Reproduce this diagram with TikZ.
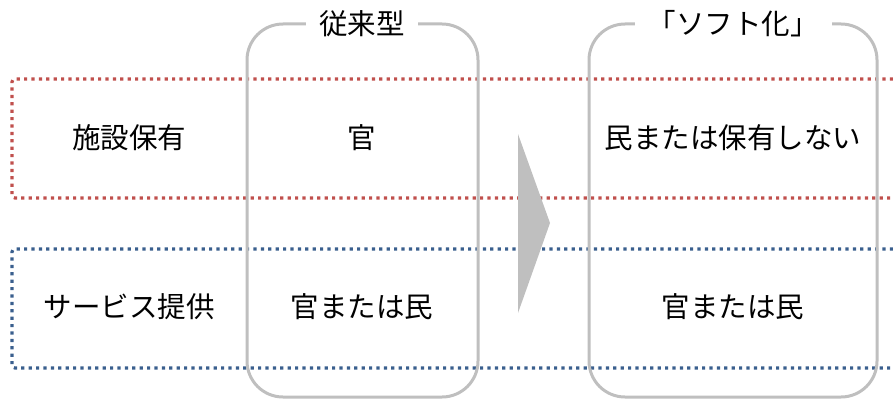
\documentclass[tikz,border=0pt]{standalone}
\usepackage{fontspec}
\setmainfont{Noto Sans CJK JP}
\definecolor{dred}{HTML}{C0504D}
\definecolor{dblue}{HTML}{3A5F8E}
\definecolor{lgray}{HTML}{BFBFBF}
\begin{document}
\begin{tikzpicture}[x=1pt,y=-1pt,
  rowbox/.style={line width=3.2pt,dash pattern=on 3.2pt off 4.2pt,rounded corners=3pt},
  colbox/.style={draw=lgray,line width=3pt,rounded corners=36pt},
  lbl/.style={font=\fontsize{28.5}{32}\selectfont,inner sep=0pt,anchor=center},
  ttl/.style={font=\fontsize{28.5}{32}\selectfont,inner sep=0pt,fill=white,inner xsep=13pt,anchor=center}]
\useasboundingbox (0,0) rectangle (893,401);
% rows
\draw[rowbox,draw=dred] (930,79) -- (12,79) -- (12,198) -- (930,198);
\draw[rowbox,draw=dblue] (930,249) -- (12,249) -- (12,368) -- (930,368);
% columns
\draw[colbox] (247,24) rectangle (478,397);
\draw[colbox] (589,24) rectangle (877,397);
\node[ttl] (t1) at (362,24) {従来型};
\node[ttl] (t2) at (733,24) {「ソフト化」};
% arrow
\fill[lgray] (518,134) -- (550,223) -- (518,313) -- cycle;
% labels
\node[lbl] (a1) at (129,138) {施設保有};
\node[lbl] (b1) at (362,138) {官};
\node[lbl] (c1) at (733,138) {民または保有しない};
\node[lbl] (a2) at (129,307) {サービス提供};
\node[lbl] (b2) at (362,307) {官または民};
\node[lbl] (c2) at (733,307) {官または民};
\end{tikzpicture}
\end{document}
